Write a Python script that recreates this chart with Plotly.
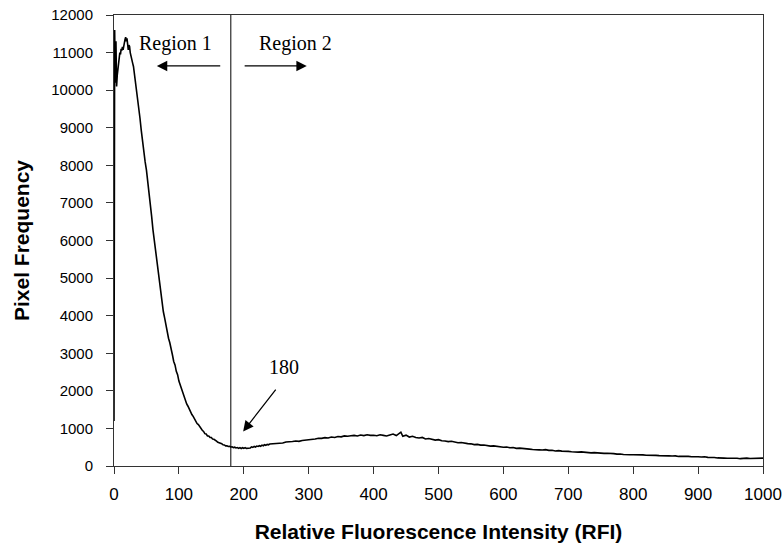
import plotly.graph_objects as go

# RFI (x) and pixel frequency (y)
rfi = [0, 1, 2, 3, 4, 5, 6, 7, 8, 9, 10, 11, 12, 13, 14, 15, 16, 17, 18, 19,
       20, 21, 22, 23, 24, 25, 26, 27, 28, 29, 30,
       32, 34, 36, 38, 40, 42, 44, 46, 48, 50, 52, 54, 56, 58, 60, 62, 64, 66, 68,
       70, 72, 74, 76, 78, 80, 82, 84, 86, 88, 90, 92, 94, 96, 98, 100, 102, 104,
       106, 108, 110, 112, 114, 116, 118, 120, 122, 124, 126, 128, 130, 132, 134,
       136, 138, 140, 142, 144, 146, 148, 150, 152, 154, 156, 158, 160, 162, 164,
       166, 168, 170, 172, 174, 176, 178, 180, 182, 184, 186, 188, 190, 192, 194,
       196, 198, 200, 202, 204, 206, 208, 210, 212, 214, 216, 218, 220, 222, 224,
       226, 228, 230, 232, 234, 236, 238, 240,
       245, 250, 255, 260, 265, 270, 275, 280, 285, 290, 295, 300, 305, 310, 315,
       320, 325, 330, 335, 340, 345, 350, 355, 360, 365, 370, 375, 380, 385, 390,
       395, 400, 405, 410, 415, 420, 425, 430, 435, 440, 442, 445, 450, 455, 460,
       465, 470, 475, 480, 485, 490, 495, 500, 505, 510, 515, 520, 525, 530, 535,
       540, 545, 550, 555, 560, 565, 570, 575, 580, 585, 590, 595, 600, 605, 610,
       615, 620, 625, 630, 635, 640, 645, 650, 655, 660, 665, 670, 675, 680, 685,
       690, 695, 700, 705, 710, 715, 720, 725, 730, 735, 740, 745, 750, 755, 760,
       765, 770, 775, 780, 785, 790, 795, 800, 805, 810, 815, 820, 825, 830, 835,
       840, 845, 850, 855, 860, 865, 870, 875, 880, 885, 890, 895, 900, 905, 910,
       915, 920, 925, 930, 935, 940, 945, 950, 955, 960, 965, 970, 975, 980, 985,
       990, 995, 1000]

freq = [1200, 11600, 10200, 11300, 10100, 10400, 10600, 10800, 10900, 11000,
        10950, 11100, 11050, 11150, 11070, 11200, 11250, 11350, 11410, 11300,
        11380, 11150, 11070, 11200, 11160, 11000, 10900, 10850, 10750, 10700, 10630,
        10380, 10120, 9850, 9560, 9260, 8930, 8600, 8310, 8090, 7870, 7510, 7260,
        6910, 6640, 6290, 6020, 5700, 5450, 5130, 4900, 4610, 4400, 4110, 3940,
        3730, 3600, 3400, 3280, 3070, 2960, 2780, 2690, 2520, 2430, 2260, 2160,
        2000, 1930, 1800, 1750, 1650, 1590, 1500, 1450, 1370, 1320, 1240, 1210,
        1130, 1100, 1040, 1010, 950, 920, 860, 850, 800, 800, 760, 760, 715, 710,
        670, 660, 630, 625, 600, 595, 565, 560, 535, 540, 520, 525, 505, 510, 490,
        500, 480, 490, 470, 490, 465, 485, 470, 490, 470, 475, 495, 480, 510,
        495, 520, 505, 530, 520, 540, 525, 555, 540, 565, 550, 575, 565, 585,
        590, 600, 615, 610, 640, 635, 650, 665, 655, 680, 690, 700, 695, 720, 740,
        735, 755, 745, 770, 760, 785, 775, 800, 790, 805, 815, 800, 825, 810, 830,
        815, 820, 805, 830, 815, 800, 825, 850, 810, 880, 900, 790, 820, 770, 790,
        760, 745, 760, 720, 730, 700, 690, 700, 670, 665, 650, 660, 635, 620, 625,
        600, 595, 590, 570, 575, 555, 560, 540, 530, 535, 520, 510, 500, 505, 485,
        490, 470, 475, 460, 455, 450, 440, 445, 430, 425, 435, 415, 420, 400, 410,
        395, 400, 390, 380, 385, 370, 375, 360, 365, 350, 355, 345, 350, 335, 340,
        325, 330, 315, 320, 305, 310, 300, 298, 300, 290, 295, 285, 290, 280, 282,
        275, 278, 279, 270, 265, 270, 255, 260, 250, 255, 245, 250, 245, 240, 245,
        230, 235, 225, 215, 220, 210, 205, 210, 199, 205, 195, 205, 210, 200, 205,
        215, 205, 210]

threshold = 180
x_ticks = [0, 100, 200, 300, 400, 500, 600, 700, 800, 900, 1000]
x_labels = [str(v) for v in x_ticks]
y_ticks = [0, 1000, 2000, 3000, 4000, 5000, 6000, 7000, 8000, 9000, 10000, 11000, 12000]
y_labels = [str(v) for v in y_ticks]

fig = go.Figure()
fig.add_trace(go.Scatter(x=rfi, y=freq, mode="lines",
                         line=dict(color="black", width=1.6), showlegend=False,
                         hoverinfo="skip"))

fig.add_shape(type="line", x0=threshold, x1=threshold, y0=0, y1=12000,
              xref="x", yref="y", line=dict(color="black", width=1))

serif = dict(family="Liberation Serif, Times New Roman, serif", size=20, color="black")
fig.add_annotation(x=94, y=11255, text="Region 1", showarrow=False, font=serif)
fig.add_annotation(x=279, y=11255, text="Region 2", showarrow=False, font=serif)
fig.add_annotation(x=262, y=2640, text="180", showarrow=False, font=serif)

arrow = dict(showarrow=True, text="", arrowhead=2, arrowsize=1.6, arrowwidth=1.3,
             arrowcolor="black", axref="x", ayref="y", standoff=0, startstandoff=0)
fig.add_annotation(x=66, y=10644, ax=166, ay=10644, **arrow)
fig.add_annotation(x=297, y=10644, ax=199, ay=10644, **arrow)
fig.add_annotation(x=199, y=918, ax=251, ay=2072, **arrow)

sans = "Liberation Sans, Arial, sans-serif"
fig.update_layout(
    width=783, height=546,
    margin=dict(l=114, r=20, t=15, b=80, autoexpand=False),
    paper_bgcolor="white", plot_bgcolor="white",
    font=dict(family=sans, color="black"),
    xaxis=dict(range=[0, 1000], tickvals=x_ticks, ticktext=x_labels,
               ticks="outside", ticklen=7, automargin=False,
               tickcolor="#333", showline=True, linecolor="#333", linewidth=1,
               mirror=True, showgrid=False, zeroline=False,
               ticklabelstandoff=6,
               tickfont=dict(size=17, family=sans),
               title=dict(text="<b>Relative Fluorescence Intensity (RFI)</b>",
                          font=dict(size=21, family=sans), standoff=20)),
    yaxis=dict(range=[0, 12000], tickvals=y_ticks, ticktext=y_labels,
               ticks="outside", ticklen=7, automargin=False,
               tickcolor="#333", showline=True, linecolor="#333", linewidth=1,
               mirror=True, showgrid=False, zeroline=False,
               ticklabelstandoff=10,
               tickfont=dict(size=15, family=sans),
               title=dict(text="<b>Pixel Frequency</b>",
                          font=dict(size=21, family=sans), standoff=15)),
)

fig.write_html("out.html")
